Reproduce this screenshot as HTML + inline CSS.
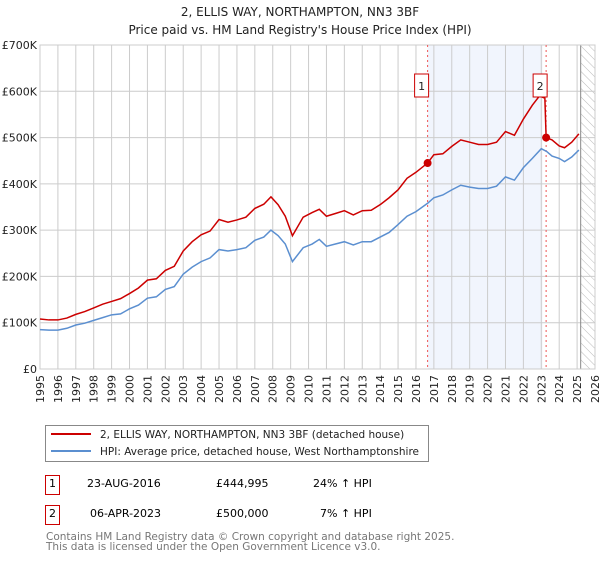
<!DOCTYPE html>
<html><head><meta charset="utf-8">
<style>
body{margin:0;background:#fff;font-family:"Liberation Sans","DejaVu Sans",sans-serif;}
svg text{font-family:"DejaVu Sans","Liberation Sans",sans-serif;}
</style></head>
<body>
<svg width="600" height="560" viewBox="0 0 600 560" xmlns="http://www.w3.org/2000/svg">
<defs>
<pattern id="hatch" width="6" height="6" patternUnits="userSpaceOnUse" patternTransform="rotate(-45)">
<line x1="0" y1="0" x2="0" y2="6" stroke="#bbb" stroke-width="1"/>
</pattern>
</defs>
<text x="300" y="16" text-anchor="middle" font-size="12" fill="#222">2, ELLIS WAY, NORTHAMPTON, NN3 3BF</text>
<text x="300" y="34" text-anchor="middle" font-size="12" fill="#222">Price paid vs. HM Land Registry's House Price Index (HPI)</text>
<g id="plot"></g>
<g>
<rect x="45.5" y="425.5" width="383" height="36" fill="#fff" stroke="#888"/>
<line x1="51" y1="434" x2="91" y2="434" stroke="#cc0000" stroke-width="2"/>
<text x="100" y="438" font-size="10.5" fill="#222">2, ELLIS WAY, NORTHAMPTON, NN3 3BF (detached house)</text>
<line x1="51" y1="451" x2="91" y2="451" stroke="#5b8fd0" stroke-width="2"/>
<text x="100" y="455" font-size="10.5" fill="#222">HPI: Average price, detached house, West Northamptonshire</text>
</g>
<g>
<rect x="45.5" y="475.5" width="14" height="19" fill="#fff" stroke="#cc0000"/>
<text x="52.5" y="487" text-anchor="middle" font-size="11">1</text>
<text x="87" y="487" font-size="11">23-AUG-2016</text>
<text x="216" y="487" font-size="11">£444,995</text>
<text x="313" y="487" font-size="11">24% ↑ HPI</text>
<rect x="45.5" y="505.5" width="14" height="19" fill="#fff" stroke="#cc0000"/>
<text x="52.5" y="517" text-anchor="middle" font-size="11">2</text>
<text x="90" y="517" font-size="11">06-APR-2023</text>
<text x="216" y="517" font-size="11">£500,000</text>
<text x="320" y="517" font-size="11">7% ↑ HPI</text>
</g>
<text x="46" y="540" font-size="10.5" fill="#777">Contains HM Land Registry data © Crown copyright and database right 2025.</text>
<text x="46" y="550" font-size="10.5" fill="#777">This data is licensed under the Open Government Licence v3.0.</text>
</svg>
<script>
const yTicks=[0,100,200,300,400,500,600,700];
const yTickLabels=["£0","£100K","£200K","£300K","£400K","£500K","£600K","£700K"];
const xYears=[1995,1996,1997,1998,1999,2000,2001,2002,2003,2004,2005,2006,2007,2008,2009,2010,2011,2012,2013,2014,2015,2016,2017,2018,2019,2020,2021,2022,2023,2024,2025,2026];
const hpiT=[1995,1995.5,1996,1996.5,1997,1997.5,1998,1998.5,1999,1999.5,2000,2000.5,2001,2001.5,2002,2002.5,2003,2003.5,2004,2004.5,2005,2005.5,2006,2006.5,2007,2007.5,2007.9,2008.3,2008.7,2009.1,2009.7,2010.2,2010.6,2011,2011.5,2012,2012.5,2013,2013.5,2014,2014.5,2015,2015.5,2016,2016.65,2017,2017.5,2018,2018.5,2019,2019.5,2020,2020.5,2021,2021.5,2022,2022.5,2023,2023.3,2023.6,2024,2024.3,2024.7,2025.1];
const hpiV=[85,84,84,88,95,99,105,111,117,119,130,138,153,156,172,178,205,220,232,240,258,255,258,262,278,285,300,288,270,232,262,270,280,265,270,275,268,275,275,285,295,312,330,340,358,370,376,387,397,393,390,390,395,415,408,435,455,476,470,460,455,448,458,473];
const redT=[1995,1995.5,1996,1996.5,1997,1997.5,1998,1998.5,1999,1999.5,2000,2000.5,2001,2001.5,2002,2002.5,2003,2003.5,2004,2004.5,2005,2005.5,2006,2006.5,2007,2007.5,2007.9,2008.3,2008.7,2009.1,2009.7,2010.2,2010.6,2011,2011.5,2012,2012.5,2013,2013.5,2014,2014.5,2015,2015.5,2016,2016.65,2017,2017.5,2018,2018.5,2019,2019.5,2020,2020.5,2021,2021.5,2022,2022.5,2022.9,2023.2,2023.27,2023.6,2024,2024.3,2024.7,2025.1];
const redV=[108,106,106,110,118,124,132,140,146,152,163,175,192,195,213,222,255,275,290,298,323,317,322,328,347,356,372,355,330,288,328,338,345,330,336,342,333,342,343,355,370,387,412,425,445,463,465,481,495,490,485,485,490,513,505,540,570,590,585,500,495,482,478,490,508];
const sales=[{t:2016.65,v:444.995,n:"1"},{t:2023.27,v:500,n:"2"}];
const shadeStart=2016.65, shadeEnd=2023.07, hatchStart=2025.2;

const L=40,R=595,T=45,B=369;
const X=t=>L+(t-1995)*(R-L)/31;
const Y=v=>B-v*(B-T)/700;
const NS="http://www.w3.org/2000/svg";
const g=document.getElementById('plot');
function mk(tag,attrs,parent){const e=document.createElementNS(NS,tag);for(const k in attrs)e.setAttribute(k,attrs[k]);(parent||g).appendChild(e);return e;}

let e=mk('rect',{x:X(shadeStart),y:T,width:X(shadeEnd)-X(shadeStart),height:B-T,fill:'#eef3fc',opacity:0.8});


e=mk('rect',{x:X(hatchStart),y:T,width:R-X(hatchStart),height:B-T,fill:'url(#hatch)'});


xYears.forEach(yr=>{
  e=mk('line',{x1:X(yr),x2:X(yr),y1:T,y2:B,stroke:'#ccc','stroke-width':1});
  
  
  e=mk('text',{x:0,y:0,transform:`translate(${X(yr)+4},${B+6}) rotate(-90)`,'text-anchor':'end','font-size':11,fill:'#222'});
  e.textContent=yr;
  
  
});
yTicks.forEach((v,i)=>{
  e=mk('line',{x1:L,x2:R,y1:Y(v),y2:Y(v),stroke:'#ccc','stroke-width':1});
  
  
  e=mk('text',{x:L-3,y:Y(v)+4,'text-anchor':'end','font-size':11,fill:'#222'});
  e.textContent=yTickLabels[i];
  
  
});
e=mk('line',{x1:X(hatchStart),x2:X(hatchStart),y1:T,y2:B,stroke:'#888','stroke-width':1});


e=mk('rect',{x:L,y:T,width:R-L,height:B-T,fill:'none',stroke:'#ccc'});


sales.forEach(s=>{
  e=mk('line',{x1:X(s.t),x2:X(s.t),y1:T,y2:B,stroke:'#e55','stroke-width':1,'stroke-dasharray':'2,3'});
  
  
});
e=mk('polyline',{points:hpiT.map((t,i)=>X(t)+','+Y(hpiV[i])).join(' '),fill:'none',stroke:'#5b8fd0','stroke-width':1.5});


e=mk('polyline',{points:redT.map((t,i)=>X(t)+','+Y(redV[i])).join(' '),fill:'none',stroke:'#cc0000','stroke-width':1.5});


sales.forEach(s=>{
  e=mk('circle',{cx:X(s.t),cy:Y(s.v),r:4,fill:'#cc0000'});
  
  
  const bx=X(s.t)-13;
  e=mk('rect',{x:bx,y:T+29,width:14,height:23,fill:'#fff',stroke:'#cc0000'});
  
  
  e=mk('text',{x:bx+7,y:T+45,'text-anchor':'middle','font-size':11,fill:'#222'});
  e.textContent=s.n;
  
  
});
</script>
</body></html>
